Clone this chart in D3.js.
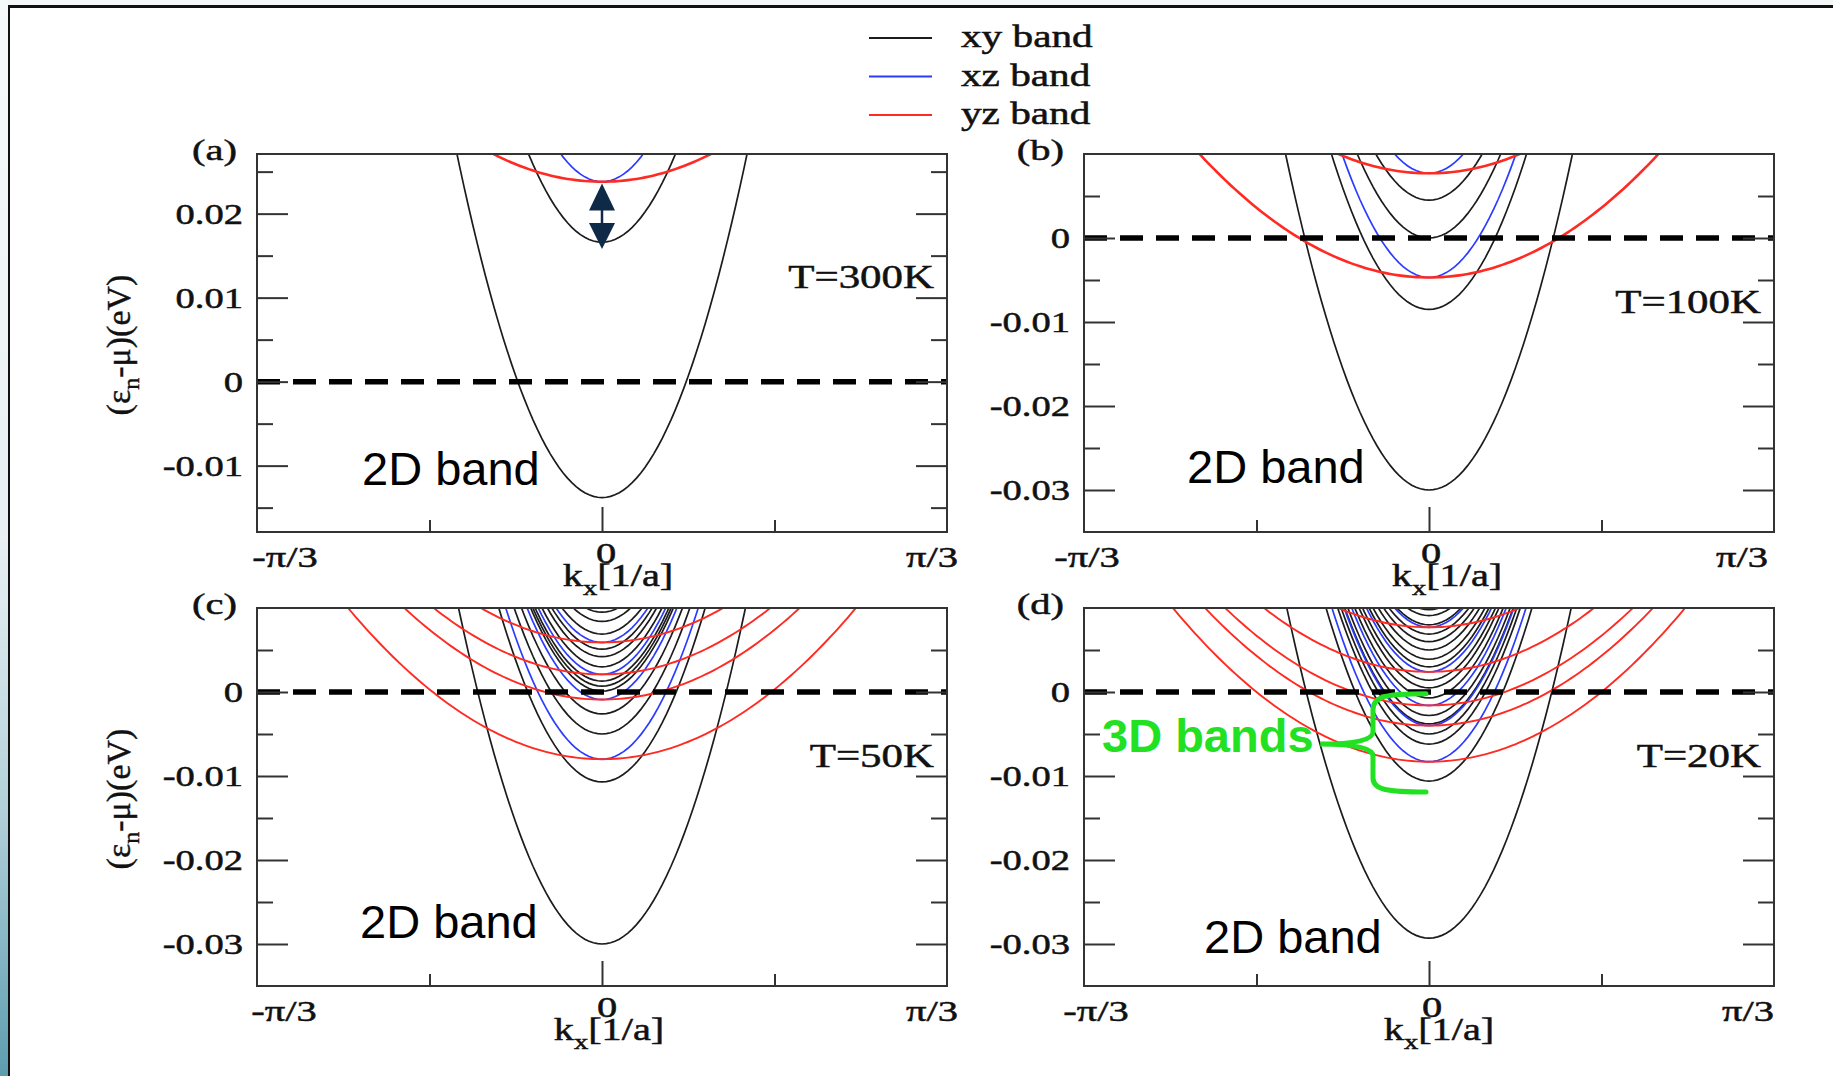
<!DOCTYPE html>
<html>
<head>
<meta charset="utf-8">
<script src="https://cdn.jsdelivr.net/npm/d3@7"></script>
<style>
  body { margin: 0; background: #fff; overflow: hidden; }
</style>
</head>
<body>
<svg id="chart"></svg>
<script>
// ---- values ----
const panelLetters = ["(a)", "(b)", "(c)", "(d)"];
const temperatures = ["T=300K", "T=100K", "T=50K", "T=20K"];
const energyDomains = [[-0.0179, 0.0271], [-0.035, 0.01], [-0.035, 0.01], [-0.035, 0.01]];
const yMajorTicks = [[0.02, 0.01, 0, -0.01], [0, -0.01, -0.02, -0.03], [0, -0.01, -0.02, -0.03], [0, -0.01, -0.02, -0.03]];
const yTickLabels = [["0.02", "0.01", "0", "-0.01"], ["0", "-0.01", "-0.02", "-0.03"], ["0", "-0.01", "-0.02", "-0.03"], ["0", "-0.01", "-0.02", "-0.03"]];
const yMinorTicks = [[0.025, 0.015, 0.005, -0.005, -0.015], [0.005, -0.005, -0.015, -0.025], [0.005, -0.005, -0.015, -0.025], [0.005, -0.005, -0.015, -0.025]];
const kMajorTicks = [0];
const kMinorTicks = [-Math.PI / 6, Math.PI / 6];
const kTickLabels = ["-\u03c0/3", "0", "\u03c0/3"];
const kTickValues = [-Math.PI / 3, 0, Math.PI / 3];

// band bottoms (eV) at k=0, per panel
const xyBands = [
  [-0.0138, 0.0166],
  [-0.0300, -0.0085, 0.0000, 0.0045],
  [-0.0300, -0.0107, -0.0050, -0.0026, 0.0001, 0.0007, 0.0013, 0.0030, 0.0042, 0.0051, 0.0069, 0.0084, 0.0095],
  [-0.0293, -0.0106, -0.0062, -0.0050, -0.0038, -0.0028, -0.0007, 0.0005, 0.0014, 0.0030, 0.0039, 0.0050, 0.0060, 0.0069, 0.0080, 0.0091, 0.0098]
];
const xzBands = [
  [0.0238],
  [-0.0047, 0.0077],
  [-0.0080, -0.0009, 0.0021, 0.0059],
  [-0.0083, -0.0040, -0.0016, 0.0024, 0.0077]
];
const yzBands = [
  [0.0238],
  [-0.0047, 0.0077],
  [-0.0080, -0.0009, 0.0021, 0.0059],
  [-0.0083, -0.0040, -0.0016, 0.0024, 0.0077]
];
// band curvature along kx (eV * a^2), from the widths of the parabolas
const curvatures = { xy: 0.211, xz: 0.211, yz: 0.0303 };
const legendNames = ["xy band", "xz band", "yz band"];
const bandColors = { xy: "#1c1c1c", xz: "#2b3cff", yz: "#ff2a22" };

// annotations
const arrowEnds = [0.0236, 0.0158];          // double arrow in (a)
const braceEnergies = [-0.0002, -0.0062, -0.0119]; // green brace in (d): top, tip, bottom
const braceK = [-0.17, -0.33];               // spine and tip positions

// ---- layout ----
const W = 1833, H = 1076;
const panelW = 690, panelH = 378;
const panelPos = [[257, 154], [1084, 154], [257, 608], [1084, 608]];
const tLabelY = [134, 159, 159, 159];
const kLabelShift = [[28, 4, -15], [3, 2, -32], [27, 5, -15], [12, 3, -26]];
const kTitleShift = [16, 18, 7, 10];
const twoDPos = [[105, 331], [103, 329], [103, 330], [120, 345]];
const serif = "'Liberation Serif','Times New Roman',serif";
const sans = "'Liberation Sans',Arial,sans-serif";

const svg = d3.select("#chart").attr("width", W).attr("height", H);
const defs = svg.append("defs");

// slide backdrop
const grad = defs.append("linearGradient").attr("id", "edge")
  .attr("x1", 0).attr("y1", 0).attr("x2", 0).attr("y2", 1);
grad.append("stop").attr("offset", "0").attr("stop-color", "#f6f9fa");
grad.append("stop").attr("offset", "0.5").attr("stop-color", "#e8f0f3");
grad.append("stop").attr("offset", "0.75").attr("stop-color", "#b3d1da");
grad.append("stop").attr("offset", "1").attr("stop-color", "#5d9db0");
svg.append("rect").attr("width", W).attr("height", H).attr("fill", "#fff");
svg.append("rect").attr("width", W).attr("height", 6).attr("fill", "#f3f7f8");
svg.append("rect").attr("width", 8).attr("height", H).attr("fill", "url(#edge)");
svg.append("line").attr("x1", 8).attr("x2", W).attr("y1", 6.5).attr("y2", 6.5)
  .attr("stroke", "#111").attr("stroke-width", 3);
svg.append("line").attr("x1", 9).attr("x2", 9).attr("y1", 5).attr("y2", H)
  .attr("stroke", "#111").attr("stroke-width", 2);

function stretchText(g, x, y, str, size, anchor, sx) {
  return g.append("text")
    .attr("transform", `translate(${x},${y}) scale(${sx},1)`)
    .attr("text-anchor", anchor)
    .attr("font-family", serif)
    .attr("font-size", size)
    .attr("fill", "#111")
    .attr("stroke", "#111")
    .attr("stroke-width", 0.5)
    .text(str);
}

// legend
const legend = svg.append("g");
["xy", "xz", "yz"].forEach((type, i) => {
  const ly = 38 + i * 38.5;
  legend.append("line").attr("x1", 869).attr("x2", 932).attr("y1", ly).attr("y2", ly)
    .attr("stroke", bandColors[type]).attr("stroke-width", 2);
  stretchText(legend, 961, ly + 9, legendNames[i], 31, "start", 1.33);
});

const kSamples = d3.range(-80, 81).map(i => i / 80 * Math.PI / 3);

panelPos.forEach(([px, py], i) => {
  const g = svg.append("g").attr("transform", `translate(${px},${py})`);
  const x = d3.scaleLinear().domain([-Math.PI / 3, Math.PI / 3]).range([0, panelW]);
  const y = d3.scaleLinear().domain(energyDomains[i]).range([panelH, 0]);

  defs.append("clipPath").attr("id", `clip${i}`)
    .append("rect").attr("width", panelW).attr("height", panelH);
  const plot = g.append("g").attr("clip-path", `url(#clip${i})`);

  const line = d3.line().x(d => x(d.k)).y(d => y(d.e));
  const sets = { xy: xyBands, xz: xzBands, yz: yzBands };
  ["xy", "xz", "yz"].forEach(type => {
    sets[type][i].forEach(e0 => {
      plot.append("path")
        .datum(kSamples.map(k => ({ k, e: e0 + curvatures[type] * k * k })))
        .attr("fill", "none")
        .attr("stroke", bandColors[type])
        .attr("stroke-width", type === "yz" ? (i < 2 ? 2.6 : 1.9) : 1.7)
        .attr("d", line);
    });
  });

  // chemical potential
  plot.append("line")
    .attr("x1", 0).attr("x2", panelW).attr("y1", y(0)).attr("y2", y(0))
    .attr("stroke", "#000").attr("stroke-width", 5.5)
    .attr("stroke-dasharray", "23,13");

  // axes, ticks inward
  const styleAxis = s => {
    s.select(".domain").remove();
    s.selectAll("line").attr("stroke", "#333").attr("stroke-width", 2);
  };
  g.append("g").call(d3.axisLeft(y).tickValues(yMajorTicks[i]).tickSize(-31).tickFormat("")).call(styleAxis);
  g.append("g").call(d3.axisLeft(y).tickValues(yMinorTicks[i]).tickSize(-16).tickFormat("")).call(styleAxis);
  g.append("g").attr("transform", `translate(${panelW},0)`)
    .call(d3.axisRight(y).tickValues(yMajorTicks[i]).tickSize(-31).tickFormat("")).call(styleAxis);
  g.append("g").attr("transform", `translate(${panelW},0)`)
    .call(d3.axisRight(y).tickValues(yMinorTicks[i]).tickSize(-16).tickFormat("")).call(styleAxis);
  g.append("g").attr("transform", `translate(0,${panelH})`)
    .call(d3.axisBottom(x).tickValues(kMajorTicks).tickSize(-25).tickFormat("")).call(styleAxis);
  g.append("g").attr("transform", `translate(0,${panelH})`)
    .call(d3.axisBottom(x).tickValues(kMinorTicks).tickSize(-12).tickFormat("")).call(styleAxis);

  g.append("rect").attr("width", panelW).attr("height", panelH)
    .attr("fill", "none").attr("stroke", "#333").attr("stroke-width", 2);

  // tick labels
  yMajorTicks[i].forEach((v, j) => {
    stretchText(g, -14, y(v) + 10, yTickLabels[i][j], 29, "end", 1.33);
  });
  kTickValues.forEach((v, j) => {
    stretchText(g, x(v) + kLabelShift[i][j], panelH + (j === 1 ? 31 : 35), kTickLabels[j], 30, "middle", 1.35);
  });

  // x title
  const xt = g.append("text")
    .attr("transform", `translate(${x(0) + kTitleShift[i]},${panelH + 54}) scale(1.3,1)`)
    .attr("text-anchor", "middle").attr("font-family", serif).attr("font-size", 31)
    .attr("fill", "#111").attr("stroke", "#111").attr("stroke-width", 0.5);
  xt.append("tspan").text("k");
  xt.append("tspan").attr("font-size", 22).attr("dy", 9).text("x");
  xt.append("tspan").attr("dy", -9).text("[1/a]");

  // panel letter and temperature
  stretchText(g, -20, 6, panelLetters[i], 30, "end", 1.35);
  stretchText(g, panelW - 13, tLabelY[i], temperatures[i], 33, "end", 1.3);

  // 2D band label
  g.append("text").attr("x", twoDPos[i][0]).attr("y", twoDPos[i][1])
    .attr("font-family", sans).attr("font-size", 47).attr("fill", "#000").text("2D band");

  // y title on the left column
  if (i % 2 === 0) {
    const yt = svg.append("text")
      .attr("transform", `translate(${px - 127},${py + 191}) rotate(-90)`)
      .attr("text-anchor", "middle").attr("font-family", serif).attr("font-size", 34)
      .attr("fill", "#111").attr("stroke", "#111").attr("stroke-width", 0.4);
    yt.append("tspan").text("(\u03b5");
    yt.append("tspan").attr("font-size", 24).attr("dy", 9).text("n");
    yt.append("tspan").attr("dy", -9).text("-\u03bc)(eV)");
  }

  // double arrow in (a)
  if (i === 0) {
    const ax = x(0), yTop = y(arrowEnds[0]), yBot = y(arrowEnds[1]);
    const col = "#0e2a47";
    g.append("line").attr("x1", ax).attr("x2", ax).attr("y1", yTop + 20).attr("y2", yBot - 20)
      .attr("stroke", col).attr("stroke-width", 2.5);
    g.append("path").attr("fill", col)
      .attr("d", `M${ax},${yTop} L${ax - 13},${yTop + 27} L${ax + 13},${yTop + 27} Z`);
    g.append("path").attr("fill", col)
      .attr("d", `M${ax},${yBot} L${ax - 13},${yBot - 26} L${ax + 13},${yBot - 26} Z`);
  }

  // green brace and "3D bands" in (d)
  if (i === 3) {
    const x0 = x(0) - 3, xs = x(braceK[0]), xtip = x(braceK[1]);
    const yT = y(braceEnergies[0]), yTip = y(braceEnergies[1]), yB = y(braceEnergies[2]);
    const p = d3.path();
    p.moveTo(x0, yT);
    p.bezierCurveTo(xs + 15, yT, xs, yT + 2, xs, yT + 16);
    p.lineTo(xs, yTip - 12);
    p.quadraticCurveTo(xs, yTip, xtip, yTip);
    p.quadraticCurveTo(xs, yTip, xs, yTip + 12);
    p.lineTo(xs, yB - 14);
    p.bezierCurveTo(xs, yB - 2, xs + 15, yB, x0, yB);
    g.append("path").attr("d", p.toString()).attr("fill", "none")
      .attr("stroke", "#22e022").attr("stroke-width", 5).attr("stroke-linecap", "round");
    g.append("text").attr("x", 18).attr("y", yTip + 8)
      .attr("font-family", sans).attr("font-weight", "bold").attr("font-size", 47)
      .attr("fill", "#22e022").text("3D bands");
  }
});
</script>
</body>
</html>
